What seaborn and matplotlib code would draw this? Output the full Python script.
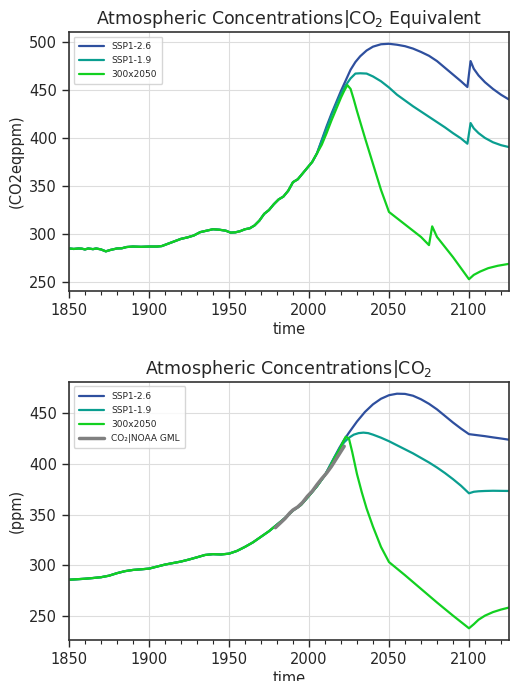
import pandas as pd
import seaborn as sns
import matplotlib.pyplot as plt
from matplotlib.ticker import MultipleLocator

sns.set_style('ticks')
plt.rcParams['font.family'] = ['DejaVu Sans']

# --- CO2 equivalent (top panel) ---
hist_eq_years = [1850, 1853, 1856, 1858, 1860, 1862, 1865, 1867, 1870, 1873, 1876, 1880,
                 1883, 1886, 1890, 1895, 1900, 1905, 1908, 1912, 1916, 1920, 1924, 1928,
                 1932, 1936, 1940, 1944, 1948, 1951, 1954, 1957, 1960, 1963, 1966, 1969,
                 1972, 1975, 1978, 1981, 1984, 1987, 1990, 1993, 1996, 1999, 2002, 2005]
hist_eq_vals = [285, 284.5, 285, 284.8, 284, 285, 284.3, 285, 284, 282, 283.5, 285,
                285.2, 286.5, 287, 286.7, 287, 287, 287.5, 290, 292.5, 295, 296.5, 298.5,
                302, 303.5, 305, 304.5, 303.5, 301.5, 301.8, 303, 305, 306, 309, 314,
                321, 325, 331, 336, 339, 345, 354, 357, 363, 369, 375, 384]

ssp126_eq_years = [2008, 2011, 2014, 2017, 2020, 2023, 2026, 2029, 2032, 2036, 2040, 2045,
                   2050, 2055, 2060, 2065, 2070, 2075, 2080, 2085, 2090, 2095, 2099, 2101,
                   2103, 2106, 2110, 2115, 2120, 2125]
ssp126_eq_vals = [398, 412, 425, 437, 449, 460, 471, 479, 485, 491, 495, 497.5,
                  498, 497, 495.5, 493, 489.5, 485.5, 480, 473, 466, 459, 453, 480,
                  472, 465, 458, 451, 445, 440]

ssp119_eq_years = [2008, 2011, 2014, 2017, 2020, 2023, 2026, 2029, 2032, 2036, 2040, 2045,
                   2050, 2055, 2060, 2065, 2070, 2075, 2080, 2085, 2090, 2095, 2099, 2101,
                   2103, 2106, 2110, 2115, 2120, 2125]
ssp119_eq_vals = [397, 410, 423, 435, 446, 455, 462, 467, 467.3, 467, 464, 459,
                  452.5, 445, 439, 433, 427.5, 422, 416.5, 411, 405, 399.5, 394, 415.5,
                  410, 405, 400, 395.5, 392.5, 390.5]

s300_eq_years = [2008, 2011, 2014, 2017, 2020, 2022, 2024, 2026, 2028, 2030, 2035, 2040,
                 2045, 2050, 2060, 2070, 2075, 2077, 2080, 2090, 2100, 2103, 2107, 2112,
                 2118, 2125]
s300_eq_vals = [393, 405, 418, 430, 442, 449, 455, 451, 440, 428, 400, 373,
                346, 323, 310, 297, 288.5, 308, 297, 276, 253, 257.5, 261, 264.5,
                267, 269]

# --- CO2 (bottom panel) ---
hist_co2_years = [1850, 1855, 1860, 1865, 1870, 1875, 1880, 1885, 1890, 1895, 1900, 1905,
                  1910, 1915, 1920, 1925, 1930, 1935, 1940, 1945, 1950, 1955, 1960, 1965,
                  1970, 1975, 1980, 1985, 1990, 1995, 2000, 2005, 2010]
hist_co2_vals = [285.5, 286, 286.5, 287.2, 288, 289.5, 292, 294, 295.2, 295.8, 296.5, 298.5,
                 300.5, 302, 303.5, 305.5, 307.7, 310, 310.8, 310.5, 311.3, 314, 318, 322.5,
                 328, 333.5, 340, 346.5, 354, 359.5, 368.5, 378, 389]

ssp126_co2_years = [2013, 2016, 2019, 2022, 2025, 2030, 2035, 2040, 2045, 2050, 2055, 2060,
                    2065, 2070, 2075, 2080, 2085, 2090, 2095, 2100, 2105, 2110, 2115, 2120, 2125]
ssp126_co2_vals = [398, 407, 416, 424, 431, 442, 451.5, 459, 464.5, 468, 469.5, 469.3,
                   467.5, 464, 459.5, 454, 447.5, 441, 435, 429.5, 428.5, 427.5, 426.3, 425.2, 424]

ssp119_co2_years = [2013, 2016, 2019, 2022, 2025, 2028, 2031, 2034, 2037, 2040, 2045, 2050,
                    2055, 2060, 2065, 2070, 2075, 2080, 2085, 2090, 2095, 2100, 2103, 2106,
                    2110, 2115, 2125]
ssp119_co2_vals = [398, 407, 415, 421.5, 426, 429, 430.5, 431, 430.5, 429, 426, 422.5,
                   418.5, 414.5, 410.5, 406, 401.5, 396.5, 391, 385, 378.5, 371, 372.5, 373,
                   373.3, 373.5, 373.3]

s300_co2_years = [2013, 2016, 2019, 2021, 2023, 2025, 2027, 2030, 2033, 2036, 2040, 2045,
                  2050, 2060, 2070, 2080, 2090, 2100, 2103, 2106, 2110, 2115, 2120, 2125]
s300_co2_vals = [397, 406, 414, 421, 427, 425, 412, 390, 372, 356, 338, 318,
                 303, 290, 276.5, 263, 250, 237.5, 241.5, 246, 250, 253.5, 256, 258]

noaa_years = [1979, 1982, 1985, 1988, 1990, 1993, 1996, 1999, 2002, 2005, 2008, 2011,
              2014, 2017, 2020, 2022]
noaa_vals = [337, 341.5, 346, 351.5, 354.5, 357.5, 362, 368, 373, 379.5, 385.5, 391,
             397.5, 405, 412.5, 417.5]

scenarios = ['SSP1-2.6', 'SSP1-1.9', '300x2050']
palette = {'SSP1-2.6': '#2e4f9e', 'SSP1-1.9': '#0a9e90', '300x2050': '#12d020'}


def build(hist_y, hist_v, parts):
    frames = []
    for name, yrs, vals in parts:
        frames.append(pd.DataFrame({'time': hist_y + yrs, 'value': hist_v + vals,
                                    'scenario': name}))
    return pd.concat(frames, ignore_index=True)


df_eq = build(hist_eq_years, hist_eq_vals,
              [('SSP1-2.6', ssp126_eq_years, ssp126_eq_vals),
               ('SSP1-1.9', ssp119_eq_years, ssp119_eq_vals),
               ('300x2050', s300_eq_years, s300_eq_vals)])
df_co2 = build(hist_co2_years, hist_co2_vals,
               [('SSP1-2.6', ssp126_co2_years, ssp126_co2_vals),
                ('SSP1-1.9', ssp119_co2_years, ssp119_co2_vals),
                ('300x2050', s300_co2_years, s300_co2_vals)])
df_noaa = pd.DataFrame({'time': noaa_years, 'value': noaa_vals})

fig = plt.figure(figsize=(5.16, 6.81), dpi=100)
ax1 = fig.add_axes([0.1337, 0.5727, 0.8527, 0.3803])
ax2 = fig.add_axes([0.1337, 0.0602, 0.8527, 0.3789])

sns.lineplot(data=df_eq, x='time', y='value', hue='scenario', hue_order=scenarios,
             palette=palette, estimator=None, sort=False, linewidth=1.6, ax=ax1)
sns.lineplot(data=df_co2, x='time', y='value', hue='scenario', hue_order=scenarios,
             palette=palette, estimator=None, sort=False, linewidth=1.6, ax=ax2)
sns.lineplot(data=df_noaa, x='time', y='value', color='gray', linewidth=2.5,
             label='CO\u2082|NOAA GML', ax=ax2)

ax1.set_title('Atmospheric Concentrations|CO$_2$ Equivalent', fontsize=12.5)
ax2.set_title('Atmospheric Concentrations|CO$_2$', fontsize=12.5)
ax1.set_ylabel('(CO2eqppm)', fontsize=10.5)
ax2.set_ylabel('(ppm)', fontsize=10.5)

for ax in (ax1, ax2):
    ax.set_xlim(1850, 2125)
    ax.set_xlabel('time', fontsize=10.5, labelpad=3)
    ax.xaxis.set_major_locator(MultipleLocator(50))
    ax.xaxis.set_minor_locator(MultipleLocator(10))
    ax.yaxis.set_major_locator(MultipleLocator(50))
    ax.grid(True, which='major', color='#dddddd', linewidth=0.8)
    ax.tick_params(axis='both', which='major', labelsize=10.5, length=5, width=1)
    ax.tick_params(axis='x', which='minor', length=3, width=0.8)
    for sp in ax.spines.values():
        sp.set_color('#333333')
        sp.set_linewidth(1.2)
    ax.legend(loc='upper left', fontsize=6.5, title=None, frameon=True,
              borderpad=0.6, handlelength=2.8, labelspacing=0.55)

plt.savefig('out.png', dpi=100)
